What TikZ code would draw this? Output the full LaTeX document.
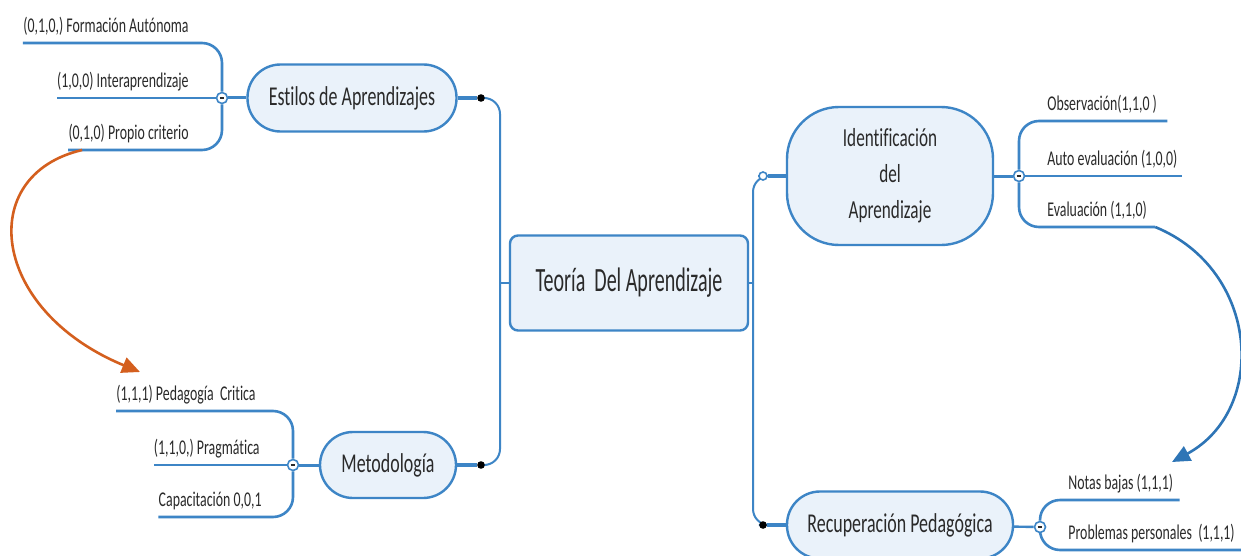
\documentclass[tikz,border=0pt]{standalone}
\usepackage{fontspec}
\setmainfont[FakeStretch=0.66,Ligatures=NoCommon]{Carlito}
\newfontfamily\mainfont[FakeStretch=0.59]{Carlito}
\usetikzlibrary{arrows.meta,backgrounds}

\definecolor{mapline}{HTML}{3D85C6}
\definecolor{mapfill}{HTML}{EAF2FA}
\definecolor{maptext}{HTML}{2A2A2A}
\definecolor{linkorange}{HTML}{D45F1E}
\definecolor{linkblue}{HTML}{2E75B6}

\tikzset{
  topic/.style={draw=mapline, line width=1.2pt, fill=mapfill, text=maptext, align=center,
    font=\fontsize{13.6}{16}\selectfont},
  leaf/.style={inner xsep=0pt, inner ysep=5pt, text depth=0pt, text=maptext,
    font=\fontsize{10.5}{12}\selectfont},
  fold/.style={circle, draw=mapline, fill=white, line width=0.8pt, minimum size=5.5pt,
    inner sep=0pt, text=maptext},
  knot/.style={circle, fill=black, minimum size=3.8pt, inner sep=0pt},
  openknot/.style={circle, draw=mapline, fill=white, line width=0.8pt, minimum size=4pt, inner sep=0pt},
  trunk/.style={draw=mapline, line width=1pt, rounded corners=8pt},
  stem/.style={draw=mapline, line width=2pt},
  twig/.style={draw=mapline, line width=1.3pt, rounded corners=10pt},
}

\begin{document}
\begin{tikzpicture}[x=0.5pt,y=-0.5pt]
  \useasboundingbox (0,0) rectangle (1241,556);

  % main topic
  \node[topic, rounded corners=4pt, minimum width=119pt, minimum height=47.5pt,
    font=\mainfont\fontsize{17}{20}\selectfont] (main) at (629,283) {Teoría~ Del Aprendizaje};
  \coordinate (jl) at (500,283);
  \coordinate (jr) at (753,283);

  % sub topics
  \node[topic, rounded corners=16.5pt, minimum width=104.5pt, minimum height=33.5pt] (est) at (352,98) {Estilos de Aprendizajes};
  \node[topic, rounded corners=16.5pt, minimum width=68pt, minimum height=33pt] (met) at (388,465) {Metodología};
  \node[topic, rounded corners=26pt, minimum width=103pt, minimum height=69pt,
    font=\fontsize{13}{18}\selectfont] (ide) at (890,176) {Identificación\\del\\Aprendizaje};
  \node[topic, rounded corners=16.5pt, minimum width=113pt, minimum height=33.5pt] (rec) at (900,525) {Recuperación Pedagógica};

  \node[knot] (dE) at (481,98) {};
  \node[knot] (dM) at (481,465) {};
  \node[openknot] (dI) at (763,176) {};
  \node[knot] (dR) at (763,525) {};

  % fold buttons
  \node[fold] (ce) at (222,98) {\rule{2.4pt}{0.9pt}};
  \node[fold] (cm) at (293,465) {\rule{2.4pt}{0.9pt}};
  \node[fold] (ci) at (1019,176) {\rule{2.4pt}{0.9pt}};
  \node[fold] (cr) at (1040,527) {\rule{2.4pt}{0.9pt}};

  % leaves
  \node[leaf, anchor=south east] (e1) at (189,43) {(0,1,0,) Formación Autónoma};
  \node[leaf, anchor=south east] (e2) at (189,98) {(1,0,0) Interaprendizaje};
  \node[leaf, anchor=south east] (e3) at (189,150) {(0,1,0) Propio criterio};

  \node[leaf, anchor=south east] (m1) at (256,411) {(1,1,1) Pedagogía~ Critica};
  \node[leaf, anchor=south east] (m2) at (260,465) {(1,1,0,) Pragmática};
  \node[leaf, anchor=south east] (m3) at (262,517) {Capacitación 0,0,1};

  \node[leaf, anchor=south west] (o1) at (1047,121) {Observación(1,1,0 )};
  \node[leaf, anchor=south west] (o2) at (1047,176) {Auto evaluación (1,0,0)};
  \node[leaf, anchor=south west] (o3) at (1047,227) {Evaluación (1,1,0)};

  \node[leaf, anchor=south west] (r1) at (1068,500) {Notas bajas (1,1,1)};
  \node[leaf, anchor=south west] (r2) at (1068,550) {Problemas personales~ (1,1,1)};

  \coordinate (otip) at (140,372);
  \coordinate (btip) at (1172,462);

  \begin{scope}[on background layer]
    \fill[white] (0,0) rectangle (1241,556);
    \draw[trunk] (dE) -| (jl);
    \draw[trunk] (dM) -| (jl);
    \draw[trunk] (jl) -- (main.west);
    \draw[trunk] (dI) -| (jr);
    \draw[trunk] (dR) -| (jr);
    \draw[trunk] (jr) -- (main.east);
    \draw[stem] (est) -- (dE);
    \draw[stem] (met) -- (dM);
    \draw[stem] (ide) -- (dI);
    \draw[stem] (rec) -- (dR);

    \draw[stem, line width=1.5pt] (est) -- (ce);
    \draw[stem, line width=1.5pt] (met) -- (cm);
    \draw[stem, line width=1.5pt] (ide) -- (ci);
    \draw[stem, line width=1.2pt] (rec) -- (cr);

    \draw[twig] (ce) |- (e1.south west);
    \draw[twig] (ce) -- (e2.south west);
    \draw[twig] (ce) |- (e3.south west);
    \draw[twig] (cm) |- (m1.south west);
    \draw[twig] (cm) -- (m2.south west);
    \draw[twig] (cm) |- (m3.south west);
    \draw[twig] (ci) |- ([xshift=5pt]o1.south east);
    \draw[twig] (ci) -- ([xshift=2pt]o2.south east);
    \draw[twig] (ci) |- ([xshift=4pt]o3.south east);
    \draw[twig] (cr) |- ([xshift=3pt]r1.south east);
    \draw[twig] (cr) |- ([xshift=3pt]r2.south east);
  \end{scope}

  % cross links
  \draw[linkorange, line width=1.3pt, -{Triangle[length=9pt,width=8pt]}]
    ([xshift=7pt]e3.south west) .. controls (-25,175) and (-10,310) .. (otip);
  \draw[linkblue, line width=1.3pt, -{Triangle[length=9pt,width=8pt]}]
    ([xshift=4pt]o3.south east) .. controls (1260,270) and (1268,410) .. (btip);
\end{tikzpicture}
\end{document}
